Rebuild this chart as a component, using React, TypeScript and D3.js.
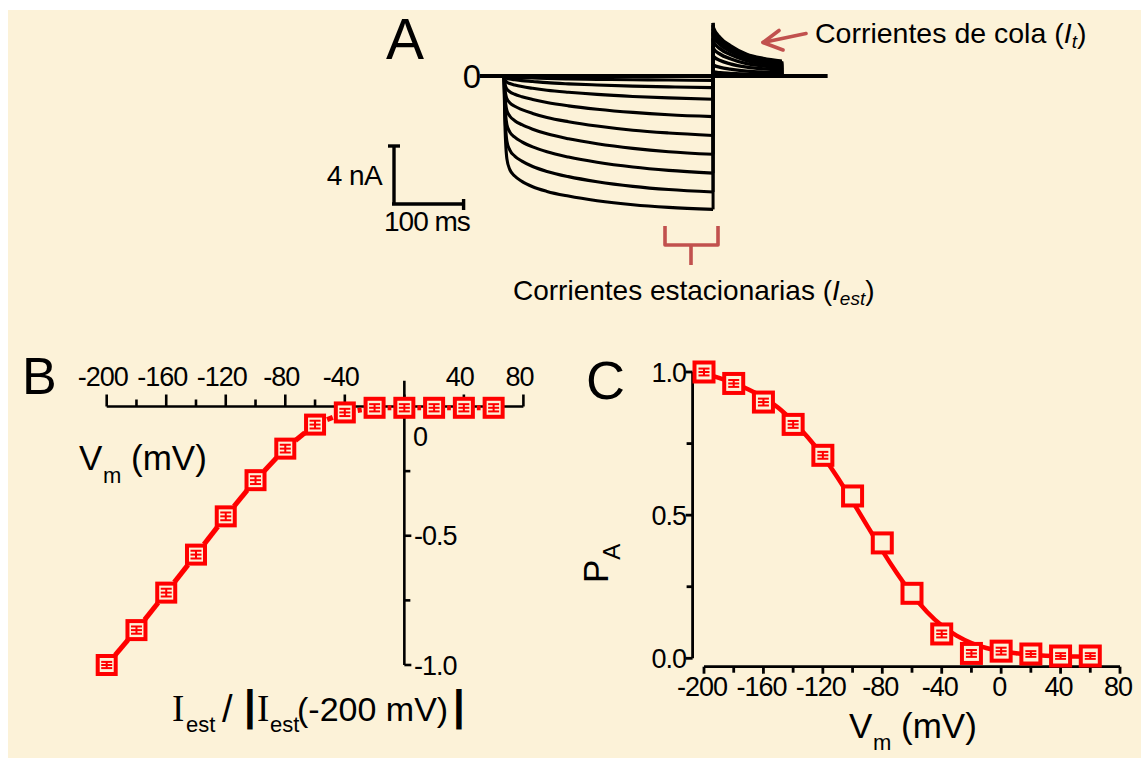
import React from "react";
import * as d3 from "d3";

const CREAM = "#FCF2D8";
const RED = "#FF0000";
const BRICK = "#C1514E";
const SANS = "'Liberation Sans', Arial, Helvetica, sans-serif";
const SERIF = "'Liberation Serif', 'Times New Roman', serif";

// ---- A: currents during hyperpolarising steps, then tails at the return potential ----
const stepPotentials = [-200, -180, -160, -140, -120, -100, -80, -60, -40];
const stepTimes = [0, 1, 4, 8, 15, 25, 40, 60, 90, 130, 180, 230, 292]; // ms
const stepCurrents = [
  [0, -2.76, -5.7, -6.44, -6.9, -7.27, -7.64, -7.96, -8.28, -8.6, -8.88, -9.06, -9.2],
  [0, -2.17, -4.48, -5.1, -5.52, -5.87, -6.24, -6.58, -6.94, -7.29, -7.61, -7.83, -8.0],
  [0, -1.63, -3.35, -3.85, -4.22, -4.54, -4.89, -5.23, -5.59, -5.95, -6.28, -6.51, -6.7],
  [0, -1.16, -2.38, -2.76, -3.08, -3.36, -3.67, -3.99, -4.33, -4.67, -4.99, -5.22, -5.4],
  [0, -0.76, -1.56, -1.84, -2.09, -2.32, -2.58, -2.86, -3.15, -3.45, -3.74, -3.93, -4.1],
  [0, -0.44, -0.9, -1.08, -1.26, -1.43, -1.62, -1.83, -2.06, -2.29, -2.51, -2.67, -2.8],
  [0, -0.21, -0.42, -0.52, -0.62, -0.73, -0.85, -0.98, -1.12, -1.27, -1.41, -1.51, -1.6],
  [0, -0.08, -0.16, -0.21, -0.26, -0.32, -0.38, -0.46, -0.54, -0.62, -0.7, -0.75, -0.8],
  [0, -0.03, -0.06, -0.08, -0.1, -0.12, -0.14, -0.17, -0.2, -0.23, -0.26, -0.28, -0.3],
]; // nA
const tailTimes = [292, 292.5, 302, 316, 339, 362, 388]; // ms
const tailCurrents = [
  [3.66, 3.33, 2.64, 2.09, 1.5, 1.21, 1.02],
  [3.5, 3.19, 2.52, 2.0, 1.44, 1.16, 0.98],
  [3.27, 2.98, 2.35, 1.86, 1.34, 1.08, 0.92],
  [3.0, 2.73, 2.16, 1.71, 1.23, 0.99, 0.84],
  [2.6, 2.37, 1.87, 1.48, 1.07, 0.86, 0.73],
  [2.08, 1.89, 1.5, 1.19, 0.85, 0.69, 0.58],
  [1.48, 1.35, 1.07, 0.84, 0.61, 0.49, 0.41],
  [0.83, 0.76, 0.6, 0.47, 0.34, 0.27, 0.23],
  [0.31, 0.28, 0.22, 0.18, 0.13, 0.1, 0.09],
]; // nA
const recordWindow = [-34, 452]; // ms
const scaleBarTime = 100; // ms
const scaleBarCurrent = 4; // nA

// ---- B: normalised steady-state current vs membrane potential ----
const ivVoltages = [-200, -180, -160, -140, -120, -100, -80, -60, -40, -20, 0, 20, 40, 60];
const ivCurrents = [-1.0, -0.865, -0.72, -0.573, -0.425, -0.285, -0.163, -0.07, -0.023, -0.005, -0.005, -0.005, -0.005, -0.005];
const ivErrors = [0.012, 0.014, 0.015, 0.015, 0.015, 0.015, 0.015, 0.015, 0.014, 0.014, 0.014, 0.014, 0.014, 0.014];
const ivMajorTicks = [-200, -160, -120, -80, -40, 0, 40, 80];
const ivMinorTicks = [-180, -140, -100, -60, -20, 20, 60];
const ivTickLabels = [-200, -160, -120, -80, -40, 40, 80];
const ivYMajor = [-0.5, -1.0];
const ivYMinor = [-0.25, -0.75];

// ---- C: activation probability vs membrane potential, with Boltzmann fit ----
const paVoltages = [-200, -180, -160, -140, -120, -100, -80, -60, -40, -20, 0, 20, 40, 60];
const paValues = [1.0, 0.96, 0.895, 0.817, 0.709, 0.567, 0.403, 0.227, 0.085, 0.017, 0.025, 0.015, 0.008, 0.008];
const paErrors = [0.012, 0.012, 0.012, 0.012, 0.012, 0, 0, 0, 0.012, 0.012, 0.012, 0.01, 0.01, 0.01];
const fitVoltages = [-200, -190, -180, -170, -160, -150, -140, -130, -120, -110, -100, -90, -80, -70, -60, -50, -40, -30, -20, -10, 0, 10, 20, 30, 40, 50, 60];
const fitValues = [0.995, 0.98, 0.962, 0.94, 0.913, 0.877, 0.828, 0.773, 0.708, 0.632, 0.548, 0.462, 0.375, 0.295, 0.222, 0.16, 0.112, 0.078, 0.052, 0.035, 0.024, 0.017, 0.012, 0.009, 0.007, 0.006, 0.005];
const paMajorX = [-200, -160, -120, -80, -40, 0, 40, 80];
const paMinorX = [-180, -140, -100, -60, -20, 20, 60];
const paMajorY = [0, 0.5, 1.0];
const paMinorY = [0.25, 0.75];

function Marker({ x, y, errPx, size }: { x: number; y: number; errPx: number; size: number }) {
  const e = Math.min(errPx, size / 2 - 4);
  return (
    <g>
      <rect x={x - size / 2} y={y - size / 2} width={size} height={size} fill={CREAM} stroke={RED} strokeWidth={4} />
      {errPx > 0 && (
        <g stroke={RED} strokeWidth={2}>
          <line x1={x} x2={x} y1={y - e} y2={y + e} />
          <line x1={x - 5.5} x2={x + 5.5} y1={y - e} y2={y - e} />
          <line x1={x - 5.5} x2={x + 5.5} y1={y + e} y2={y + e} />
          <line x1={x - 5.5} x2={x + 5.5} y1={y} y2={y} />
        </g>
      )}
    </g>
  );
}

export default function App() {
  // Panel A scales
  const tA = d3.scaleLinear().domain([0, 100]).range([504, 575.6]);
  const iA = d3.scaleLinear().domain([0, -4]).range([76, 134]);
  const stepPath = d3
    .line<number>()
    .x((_, k) => tA(stepTimes[k]))
    .y((d) => iA(d))
    .curve(d3.curveMonotoneX);
  const tailPath = d3
    .line<number>()
    .x((_, k) => tA(tailTimes[k]))
    .y((d) => iA(d))
    .curve(d3.curveMonotoneX);
  const stepEnd = stepTimes[stepTimes.length - 1];
  const tailEnd = tailTimes[tailTimes.length - 1];
  const barX = 394;
  const barY = 204;
  const barH = iA(-scaleBarCurrent) - iA(0);
  const barW = tA(scaleBarTime) - tA(0);

  // Panel B scales
  const xB = d3.scaleLinear().domain([-200, 80]).range([106.7, 523.4]);
  const yB = d3.scaleLinear().domain([0, -1]).range([406.5, 665]);
  const ivPts = ivVoltages.map((v, k) => [xB(v), yB(ivCurrents[k])] as [number, number]);
  const trim = 13;
  const ivSegments = ivPts.slice(1).map((p1, k) => {
    const p0 = ivPts[k];
    const dx = p1[0] - p0[0];
    const dy = p1[1] - p0[1];
    const len = Math.hypot(dx, dy);
    const ux = dx / len;
    const uy = dy / len;
    return { x1: p0[0] + ux * trim, y1: p0[1] + uy * trim, x2: p1[0] - ux * trim, y2: p1[1] - uy * trim, ok: len > 2 * trim };
  });

  // Panel C scales
  const xC = d3.scaleLinear().domain([-200, 80]).range([704, 1120]);
  const yC = d3.scaleLinear().domain([0, 1]).range([658.3, 372]);
  const fitPath = d3
    .line<number>()
    .x((_, k) => xC(fitVoltages[k]))
    .y((d) => yC(d))
    .curve(d3.curveBasis)(fitValues);
  const cAxisX = 692.6;
  const cAxisY = 666.7;

  return (
    <svg
      width={1141}
      height={758}
      style={{ position: "absolute", left: 0, top: 0, display: "block" }}
      fontFamily={SANS}
    >
      <rect x={0} y={0} width={1141} height={758} fill="#fff" />
      <rect x={8} y={10} width={1133} height={748} fill={CREAM} />

      {/* ---------- Panel A ---------- */}
      <text x={386} y={59} fontSize={57}>A</text>
      <text x={481} y={87.5} fontSize={33} textAnchor="end">0</text>
      <g fill="none" stroke="#000" strokeLinejoin="round">
        <line x1={tA(recordWindow[0])} x2={tA(recordWindow[1])} y1={iA(0)} y2={iA(0)} strokeWidth={3.8} />
        {stepCurrents.map((vals, i) => (
          <g key={stepPotentials[i]}>
            <path d={stepPath(vals) || ""} strokeWidth={3.1} />
            <line x1={tA(stepEnd)} x2={tA(stepEnd)} y1={iA(vals[vals.length - 1])} y2={iA(tailCurrents[i][0])} strokeWidth={3} />
            <path d={tailPath(tailCurrents[i]) || ""} strokeWidth={3.4} />
            <line
              x1={tA(tailEnd)}
              x2={tA(tailEnd)}
              y1={iA(tailCurrents[i][tailCurrents[i].length - 1])}
              y2={iA(0)}
              strokeWidth={3}
            />
          </g>
        ))}
      </g>

      {/* scale bar */}
      <g stroke="#000" strokeWidth={3.4} fill="none">
        <line x1={barX} x2={barX} y1={barY} y2={barY - barH} />
        <line x1={barX - 6} x2={barX + 6} y1={barY - barH} y2={barY - barH} />
        <line x1={barX - 2} x2={barX - 2 + barW} y1={barY} y2={barY} />
        <line x1={barX - 2 + barW} x2={barX - 2 + barW} y1={barY - 5} y2={barY + 6} />
      </g>
      <text x={382} y={185} fontSize={28} textAnchor="end" letterSpacing={-0.6}>4 nA</text>
      <text x={384} y={231} fontSize={28} letterSpacing={-1}>100 ms</text>

      {/* annotations */}
      <g stroke={BRICK} strokeWidth={3.6} fill="none" strokeLinecap="round" strokeLinejoin="round">
        <line x1={806} y1={33.5} x2={763} y2={42.5} />
        <polyline points="779,30.5 763,42.5 783,50" />
        <path d="M665,226 V245 H718 V226 M691,245 V265" strokeLinecap="butt" />
      </g>
      <text x={815} y={43} fontSize={28.5}>
        Corrientes de cola (<tspan fontStyle="italic">I</tspan>
        <tspan fontStyle="italic" fontSize={19} dy={5}>t</tspan>
        <tspan dy={-5}>)</tspan>
      </text>
      <text x={513} y={300} fontSize={28}>
        Corrientes estacionarias (<tspan fontStyle="italic">I</tspan>
        <tspan fontStyle="italic" fontSize={19} dy={5}>est</tspan>
        <tspan dy={-5}>)</tspan>
      </text>

      {/* ---------- Panel B ---------- */}
      <text x={22} y={394} fontSize={52}>B</text>
      <g stroke="#000" strokeWidth={2.6}>
        <line x1={xB(-200)} x2={xB(80)} y1={yB(0)} y2={yB(0)} />
        {ivMajorTicks.map((v) => (
          <line key={"M" + v} x1={xB(v)} x2={xB(v)} y1={yB(0)} y2={yB(0) - 12} />
        ))}
        {ivMinorTicks.map((v) => (
          <line key={"m" + v} x1={xB(v)} x2={xB(v)} y1={yB(0)} y2={yB(0) - 7} />
        ))}
        <line x1={xB(0)} x2={xB(0)} y1={yB(0.1)} y2={yB(-1)} />
        {ivYMajor.map((v) => (
          <line key={"YM" + v} x1={xB(0)} x2={xB(0) + 7} y1={yB(v)} y2={yB(v)} />
        ))}
        {ivYMinor.map((v) => (
          <line key={"Ym" + v} x1={xB(0)} x2={xB(0) + 6} y1={yB(v)} y2={yB(v)} />
        ))}
      </g>
      {ivTickLabels.map((v) => (
        <text key={"L" + v} x={xB(v) - 4} y={386} fontSize={27} textAnchor="middle" letterSpacing={-1}>
          {String(v)}
        </text>
      ))}
      <text x={413} y={446} fontSize={27}>0</text>
      {ivYMajor.map((v) => (
        <text key={"YL" + v} x={414} y={yB(v) + 9.5} fontSize={27} letterSpacing={-1}>
          {v.toFixed(1)}
        </text>
      ))}
      <text x={79} y={470} fontSize={35}>V</text>
      <text x={103} y={483} fontSize={22}>m</text>
      <text x={131} y={470} fontSize={35}>(mV)</text>

      <g stroke={RED} strokeWidth={5}>
        {ivSegments.map((s, k) =>
          s.ok ? <line key={k} x1={s.x1} y1={s.y1} x2={s.x2} y2={s.y2} /> : null
        )}
      </g>
      {ivPts.map((p, k) => (
        <Marker
          key={ivVoltages[k]}
          x={p[0]}
          y={p[1]}
          size={18}
          errPx={Math.abs(yB(ivCurrents[k] - ivErrors[k]) - yB(ivCurrents[k]))}
        />
      ))}

      <text x={172} y={721} fontSize={37} fontFamily={SERIF}>I</text>
      <text x={186} y={732} fontSize={22}>est</text>
      <text x={222} y={722} fontSize={38}>/</text>
      <text x={244} y={720} fontSize={42} fontWeight="bold">|</text>
      <text x={257} y={721} fontSize={37} fontFamily={SERIF}>I</text>
      <text x={270} y={732} fontSize={22}>est</text>
      <text x={297} y={721} fontSize={34}>(-200 mV)</text>
      <text x={453} y={720} fontSize={42} fontWeight="bold">|</text>

      {/* ---------- Panel C ---------- */}
      <text x={586} y={399} fontSize={54}>C</text>
      <g stroke="#000" strokeWidth={2.8}>
        <line x1={cAxisX} x2={cAxisX} y1={yC(1)} y2={yC(0)} />
        {paMajorY.map((v) => (
          <line key={"cy" + v} x1={cAxisX - 7} x2={cAxisX} y1={yC(v)} y2={yC(v)} />
        ))}
        {paMinorY.map((v) => (
          <line key={"cym" + v} x1={cAxisX - 6} x2={cAxisX} y1={yC(v)} y2={yC(v)} />
        ))}
        <line x1={xC(-200)} x2={xC(80)} y1={cAxisY} y2={cAxisY} />
        {paMajorX.map((v) => (
          <line key={"cx" + v} x1={xC(v)} x2={xC(v)} y1={cAxisY} y2={cAxisY + 7} />
        ))}
        {paMinorX.map((v) => (
          <line key={"cxm" + v} x1={xC(v)} x2={xC(v)} y1={cAxisY} y2={cAxisY + 6} />
        ))}
      </g>
      {paMajorY.map((v) => (
        <text key={"cyl" + v} x={686} y={yC(v) + 9.5} fontSize={27} textAnchor="end" letterSpacing={-1}>
          {v.toFixed(1)}
        </text>
      ))}
      {paMajorX.map((v) => (
        <text key={"cxl" + v} x={xC(v) - 2} y={696} fontSize={27} textAnchor="middle" letterSpacing={-1}>
          {String(v)}
        </text>
      ))}
      <text x={849} y={738} fontSize={35}>V</text>
      <text x={873} y={750} fontSize={22}>m</text>
      <text x={901} y={738} fontSize={35}>(mV)</text>
      <text transform="translate(608,583) rotate(-90)" fontSize={35}>
        P<tspan fontSize={24} dy={12}>A</tspan>
      </text>

      <path d={fitPath || ""} fill="none" stroke={RED} strokeWidth={4.5} />
      {paVoltages.map((v, k) => (
        <Marker
          key={"pa" + v}
          x={xC(v)}
          y={yC(paValues[k])}
          size={19}
          errPx={Math.abs(yC(paValues[k] + paErrors[k]) - yC(paValues[k]))}
        />
      ))}
    </svg>
  );
}
